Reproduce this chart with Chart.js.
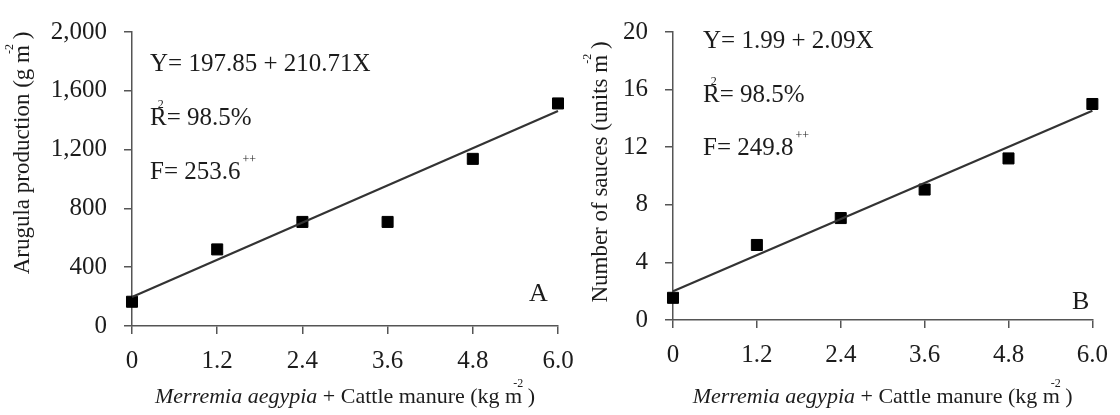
<!DOCTYPE html>
<html lang="en">
<head>
    <meta charset="UTF-8">
    <title>Merremia aegypia + Cattle manure</title>
    <script src="https://cdn.jsdelivr.net/npm/chart.js"></script>
    <style>
        body { margin: 0; background: #fff; }
        .wrap { position: relative; width: 1120px; height: 415px; overflow: hidden; }
        .box { position: absolute; top: 0; height: 415px; }
    </style>
</head>
<body>
    <div class="wrap">
        <div class="box" style="left: 0; width: 610px;"><canvas id="chartA"></canvas></div>
        <div class="box" style="left: 560px; width: 560px;"><canvas id="chartB"></canvas></div>
    </div>

    <script>
        // data
        const doses = [0, 1.2, 2.4, 3.6, 4.8, 6.0];
        const doseLabels = ['0', '1.2', '2.4', '3.6', '4.8', '6.0'];
        const arugula = [165, 521, 708, 708, 1137, 1514];
        const sauces = [1.54, 5.21, 7.08, 9.06, 11.22, 15.0];
        const fitX = [0, 6.0];
        const fitA = [197.85, 1462.1];
        const fitB = [1.99, 14.53];
        const yTicksA = [0, 400, 800, 1200, 1600, 2000];
        const yTicksB = [0, 4, 8, 12, 16, 20];

        const SERIF = '"Liberation Serif", "Times New Roman", serif';
        const INK = '#1c1c1c';
        const AXIS = '#555';

        function f(size, style) {
            return (style || '') + ' ' + size + 'px ' + SERIF;
        }

        // draw a row of text pieces; "sup" pieces sit on top of the previous glyph and take no room
        function drawRuns(ctx, x, y, runs, center) {
            let w = 0;
            runs.forEach(r => { ctx.font = r.font; if (!r.sup) w += ctx.measureText(r.t).width; });
            let cx = center ? x - w / 2 : x;
            runs.forEach(r => {
                ctx.font = r.font;
                ctx.fillText(r.t, cx + (r.ox || 0), y + (r.dy || 0));
                if (!r.sup) cx += ctx.measureText(r.t).width;
            });
        }

        function notesPlugin(cfg) {
            return {
                id: 'notes',
                afterDraw(chart) {
                    const ctx = chart.ctx;
                    ctx.save();
                    ctx.fillStyle = INK;
                    ctx.textBaseline = 'middle';
                    ctx.textAlign = 'left';
                    const big = f(25), small = f(12);
                    // equation
                    drawRuns(ctx, cfg.textX, cfg.rows[0], [{ t: cfg.eq, font: big }]);
                    // R2
                    drawRuns(ctx, cfg.textX, cfg.rows[1], [
                        { t: 'R', font: big },
                        { t: '2', font: small, dy: -13, ox: -9, sup: true },
                        { t: '= 98.5%', font: big }
                    ]);
                    // F
                    drawRuns(ctx, cfg.textX, cfg.rows[2], [
                        { t: cfg.f, font: big },
                        { t: '++', font: small, dy: -12, ox: 2, sup: true }
                    ]);
                    // panel letter
                    ctx.font = f(26);
                    ctx.fillText(cfg.letter, cfg.letterX, cfg.letterY);

                    // x axis title
                    const area = chart.chartArea;
                    const xt = f(22);
                    drawRuns(ctx, (area.left + area.right) / 2, 397, [
                        { t: 'Merremia aegypia', font: f(22, 'italic') },
                        { t: ' + Cattle manure (kg m', font: xt },
                        { t: '-2', font: small, dy: -13, ox: -9, sup: true },
                        { t: ' )', font: xt }
                    ], true);

                    // y axis title, rotated
                    const yt = f(23);
                    ctx.translate(cfg.yTitleX, cfg.yTitleY);
                    ctx.rotate(-Math.PI / 2);
                    drawRuns(ctx, 0, 0, [
                        { t: cfg.yTitle, font: yt },
                        { t: '-2', font: small, dy: -13, ox: -9, sup: true },
                        { t: ' )', font: yt }
                    ], true);
                    ctx.restore();
                }
            };
        }

        function makeChart(id, opts) {
            const ctx = document.getElementById(id).getContext('2d');
            return new Chart(ctx, {
                type: 'scatter',
                data: {
                    datasets: [{
                        type: 'line',
                        data: fitX.map((x, i) => ({ x: x, y: opts.fit[i] })),
                        borderColor: '#333',
                        borderWidth: 2.2,
                        pointRadius: 0,
                        fill: false,
                        clip: false
                    }, {
                        data: doses.map((x, i) => ({ x: x, y: opts.values[i] })),
                        pointStyle: 'rect',
                        pointRadius: 7.8,
                        backgroundColor: '#000',
                        borderColor: '#000',
                        borderWidth: 1,
                        clip: false
                    }]
                },
                options: {
                    responsive: true,
                    maintainAspectRatio: false,
                    animation: false,
                    events: [],
                    layout: { padding: { left: 0, top: opts.top, right: opts.right, bottom: 0 } },
                    plugins: { legend: { display: false }, tooltip: { enabled: false } },
                    scales: {
                        x: {
                            type: 'linear',
                            min: 0,
                            max: 6,
                            afterFit: s => { s.height = 415 - opts.bottom; },
                            afterBuildTicks: s => { s.ticks = doses.map(v => ({ value: v })); },
                            ticks: {
                                color: INK,
                                font: { family: SERIF, size: 25 },
                                padding: 12,
                                maxRotation: 0,
                                callback: (v, i) => doseLabels[i]
                            },
                            grid: { drawOnChartArea: false, drawTicks: true, tickLength: 8, color: AXIS, lineWidth: 1.5 },
                            border: { color: AXIS, width: 1.5 }
                        },
                        y: {
                            min: 0,
                            max: opts.yTicks[opts.yTicks.length - 1],
                            afterFit: s => { s.width = opts.left; },
                            afterBuildTicks: s => { s.ticks = opts.yTicks.map(v => ({ value: v })); },
                            ticks: {
                                color: INK,
                                font: { family: SERIF, size: 25 },
                                padding: 17,
                                callback: v => v.toLocaleString('en-US')
                            },
                            grid: { drawOnChartArea: false, drawTicks: true, tickLength: 8, color: AXIS, lineWidth: 1.5 },
                            border: { color: AXIS, width: 1.5 }
                        }
                    }
                },
                plugins: [notesPlugin(opts.notes)]
            });
        }

        makeChart('chartA', {
            values: arugula, fit: fitA, yTicks: yTicksA,
            left: 132, right: 52, top: 23, bottom: 326,
            notes: {
                eq: 'Y= 197.85 + 210.71X', f: 'F= 253.6',
                textX: 150, rows: [64, 118, 172],
                letter: 'A', letterX: 529, letterY: 294,
                yTitle: 'Arugula production (g m', yTitleX: 23, yTitleY: 153
            }
        });

        makeChart('chartB', {
            values: sauces, fit: fitB, yTicks: yTicksB,
            left: 113, right: 21, top: 17, bottom: 320,
            notes: {
                eq: 'Y= 1.99 + 2.09X', f: 'F= 249.8',
                textX: 143, rows: [41, 95, 148],
                letter: 'B', letterX: 512, letterY: 302,
                yTitle: 'Number of sauces (units m', yTitleX: 41, yTitleY: 172
            }
        });
    </script>
</body>
</html>
